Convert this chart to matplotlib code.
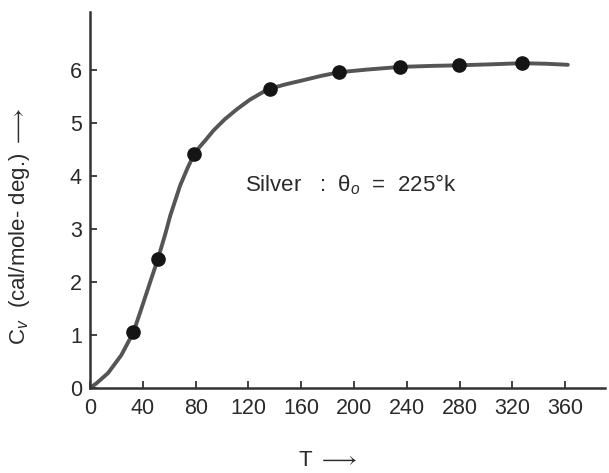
import matplotlib
matplotlib.use("Agg")
import matplotlib.pyplot as plt

# measured points (T in K, Cv in cal/mole-deg)
T_points = [32.8, 51.3, 79.0, 136.5, 188.8, 235.0, 279.8, 327.3]
Cv_points = [1.05, 2.43, 4.42, 5.65, 5.96, 6.06, 6.09, 6.14]

# smooth curve
T_curve = [0, 5, 13.6, 23.7, 32.8, 38.9, 45, 51.3, 56.9, 60.7, 68.2, 74, 79,
           83, 87.2, 93.5, 102, 111.2, 121, 131.4, 136.5, 148, 160, 175, 188.8,
           210, 235, 260, 279.8, 305, 327.3, 345, 362]
Cv_curve = [0, 0.09, 0.28, 0.62, 1.05, 1.50, 1.96, 2.43, 2.90, 3.25, 3.82, 4.16,
            4.42, 4.55, 4.67, 4.86, 5.07, 5.26, 5.44, 5.59, 5.65, 5.73, 5.80,
            5.89, 5.96, 6.01, 6.06, 6.08, 6.09, 6.11, 6.13, 6.12, 6.10]

x_ticks = [0, 40, 80, 120, 160, 200, 240, 280, 320, 360]
y_ticks = [0, 1, 2, 3, 4, 5, 6]

plt.rcParams['font.family'] = ['Liberation Sans', 'DejaVu Sans']
plt.rcParams['mathtext.fontset'] = 'custom'
plt.rcParams['mathtext.rm'] = 'Liberation Sans'
plt.rcParams['mathtext.it'] = 'Liberation Sans:italic'

ink = '#2a2a2a'

fig = plt.figure(figsize=(6.09, 4.73), dpi=100)
ax = fig.add_axes([0.148, 0.18, 0.845, 0.795])

ax.plot(T_curve, Cv_curve, color='#555555', lw=2.8, solid_capstyle='round', zorder=2)
ax.plot(T_points, Cv_points, 'o', color='#151515', ms=9.5, zorder=3)

ax.set_xlim(0, 390)
ax.set_ylim(0, 7.1)
ax.set_xticks(x_ticks)
ax.set_yticks(y_ticks)

for side in ['top', 'right']:
    ax.spines[side].set_visible(False)
for side in ['left', 'bottom']:
    ax.spines[side].set_linewidth(1.8)
    ax.spines[side].set_color('#333333')

ax.tick_params(direction='in', length=5, width=1.3, colors='#333333',
               labelsize=15.5, labelcolor=ink)
ax.tick_params(axis='y', pad=6)
ax.tick_params(axis='x', pad=7)

ax.text(117, 3.83, 'Silver   :  θ$_o$  =  225°k', fontsize=16, color=ink,
        va='center', ha='left')

ax.set_xlabel(r'T $\longrightarrow$', fontsize=16, color=ink)
ax.xaxis.set_label_coords(0.462, -0.165)
ax.set_ylabel(r'C$_v$  (cal/mole- deg.) $\longrightarrow$', fontsize=16, color=ink)
ax.yaxis.set_label_coords(-0.112, 0.43)

fig.savefig('out.png', dpi=100)
